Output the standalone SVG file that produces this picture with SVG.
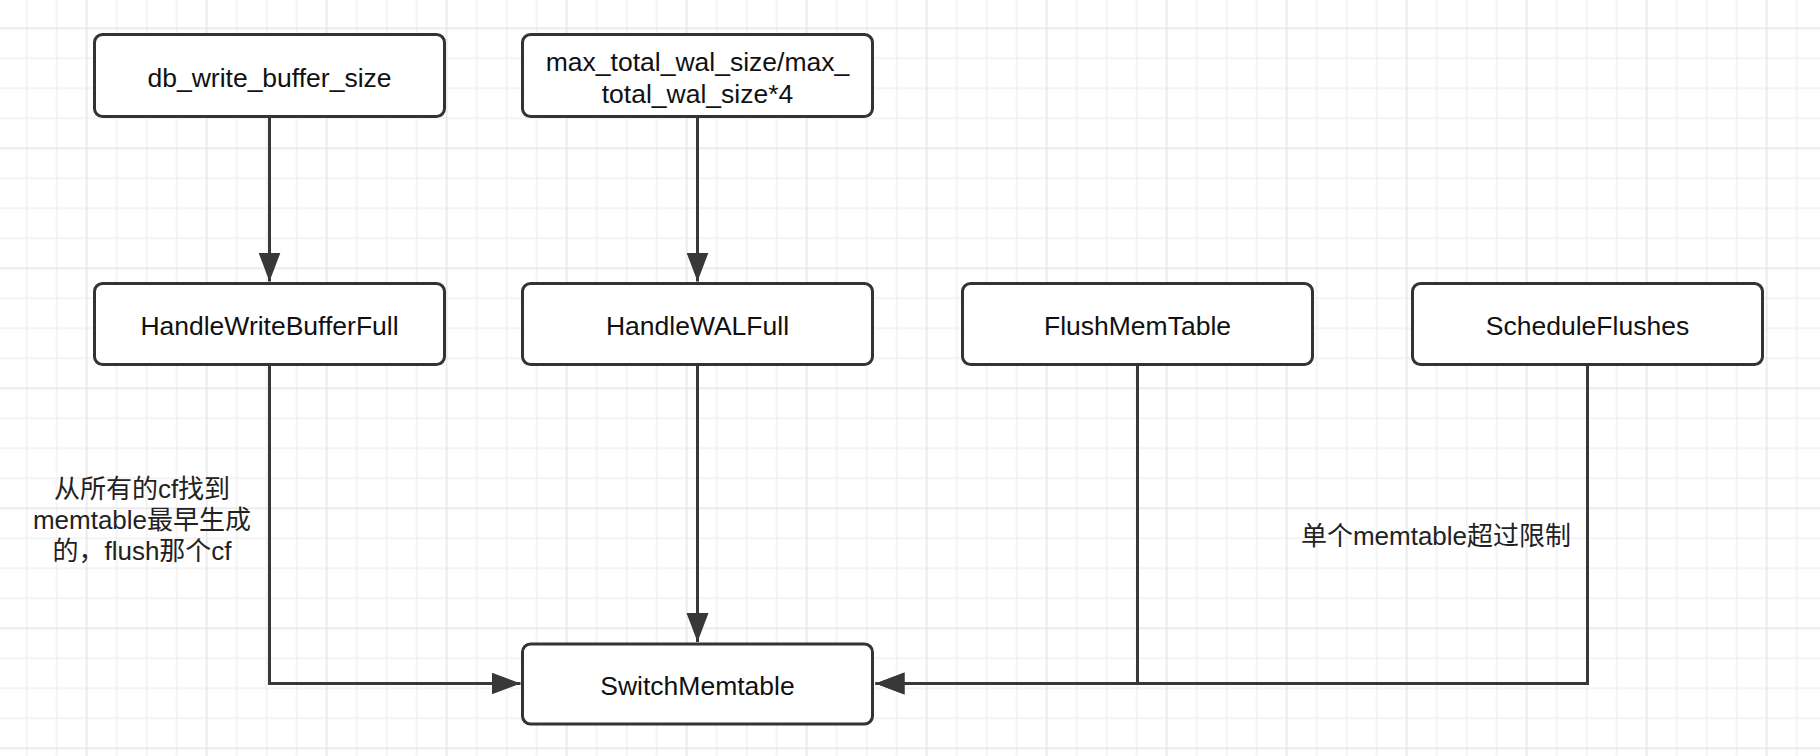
<svg xmlns="http://www.w3.org/2000/svg" width="1820" height="756" viewBox="0 0 1820 756">
<style>
.node rect{fill:#ffffff;stroke:#333333;stroke-width:3}
.lbl{font-family:"Liberation Sans","Noto Sans CJK SC",sans-serif;font-size:26.5px;fill:#111111;text-anchor:middle}
.elbl{font-family:"Liberation Sans","Noto Sans CJK SC",sans-serif;font-size:26px;fill:#222222;text-anchor:middle}
.edge{fill:none;stroke:#383838;stroke-width:3}
.minor{stroke:#f1f1f1;stroke-width:1.5}
.major{stroke:#e6e6e6;stroke-width:1.5}
</style>
<defs>
<pattern id="grid" patternUnits="userSpaceOnUse" x="71.7" y="13.3" width="120" height="120">
<line class="minor" x1="45" y1="0" x2="45" y2="120"/>
<line class="minor" x1="75" y1="0" x2="75" y2="120"/>
<line class="minor" x1="105" y1="0" x2="105" y2="120"/>
<line class="minor" x1="0" y1="45" x2="120" y2="45"/>
<line class="minor" x1="0" y1="75" x2="120" y2="75"/>
<line class="minor" x1="0" y1="105" x2="120" y2="105"/>
<line class="major" x1="15" y1="0" x2="15" y2="120"/>
<line class="major" x1="0" y1="15" x2="120" y2="15"/>
</pattern>
<marker id="arr" markerUnits="userSpaceOnUse" markerWidth="32" markerHeight="24" refX="29" refY="11" orient="auto">
<path d="M0,0 L29,11 L0,22 Z" fill="#383838"/>
</marker>
</defs>
<rect x="0" y="0" width="1820" height="756" fill="#ffffff"/>
<rect x="0" y="0" width="1820" height="756" fill="url(#grid)"/>

<g id="connectors">
<path class="edge" d="M269.5,118 V281.5" marker-end="url(#arr)"/>
<path class="edge" d="M697.5,118 V281.5" marker-end="url(#arr)"/>
<path class="edge" d="M697.5,366 V642" marker-end="url(#arr)"/>
<path class="edge" d="M269.5,366 V683.5 H520.5" marker-end="url(#arr)"/>
<path class="edge" d="M1137.5,366 V683.5 H875.5" marker-end="url(#arr)"/>
<path class="edge" d="M1587.5,366 V683.5 H875.5" marker-end="url(#arr)"/>
</g>

<g id="db_write_buffer_size" class="node">
<rect x="94.5" y="34.5" width="350" height="82" rx="8"/>
<text class="lbl" x="269.5" y="87">db_write_buffer_size</text>
</g>
<g id="max_total_wal_size" class="node">
<rect x="522.5" y="34.5" width="350" height="82" rx="8"/>
<text class="lbl" x="697.5" y="71">max_total_wal_size/max_</text>
<text class="lbl" x="697.5" y="103">total_wal_size*4</text>
</g>
<g id="HandleWriteBufferFull" class="node">
<rect x="94.5" y="283.5" width="350" height="81" rx="8"/>
<text class="lbl" x="269.5" y="335">HandleWriteBufferFull</text>
</g>
<g id="HandleWALFull" class="node">
<rect x="522.5" y="283.5" width="350" height="81" rx="8"/>
<text class="lbl" x="697.5" y="335">HandleWALFull</text>
</g>
<g id="FlushMemTable" class="node">
<rect x="962.5" y="283.5" width="350" height="81" rx="8"/>
<text class="lbl" x="1137.5" y="335">FlushMemTable</text>
</g>
<g id="ScheduleFlushes" class="node">
<rect x="1412.5" y="283.5" width="350" height="81" rx="8"/>
<text class="lbl" x="1587.5" y="335">ScheduleFlushes</text>
</g>
<g id="SwitchMemtable" class="node">
<rect x="522.5" y="644" width="350" height="80" rx="8"/>
<text class="lbl" x="697.5" y="695">SwitchMemtable</text>
</g>

<g id="edge-labels">
<text class="elbl" x="142" y="498">从所有的cf找到</text>
<text class="elbl" x="142" y="529">memtable最早生成</text>
<text class="elbl" x="142" y="560">的，flush那个cf</text>
<text class="elbl" x="1436" y="545">单个memtable超过限制</text>
</g>
</svg>
